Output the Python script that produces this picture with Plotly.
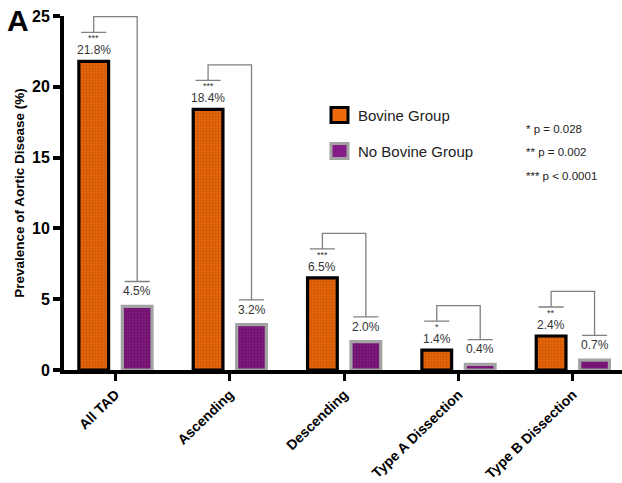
import plotly.graph_objects as go

categories = ["All TAD", "Ascending", "Descending", "Type A Dissection", "Type B Dissection"]
bovine = [21.8, 18.4, 6.5, 1.4, 2.4]
no_bovine = [4.5, 3.2, 2.0, 0.4, 0.7]
stars = ["***", "***", "***", "*", "**"]
pvalue_lines = ["* p = 0.028", "** p = 0.002", "*** p < 0.0001"]
series_names = ["Bovine Group", "No Bovine Group"]
y_ticks = [0, 5, 10, 15, 20, 25]

ORANGE = "#EE6A0C"
ORANGE_DOT = "#A84400"
PURPLE = "#861C86"
PURPLE_DOT = "#4A0848"
GREY_BORDER = "#A3A3A3"
BRACKET = "#808080"
TXT = "#333333"
FONT = "Liberation Sans, Arial, sans-serif"

# plot area in pixels (for paper-coordinate helpers)
L, R, T, B = 64, 622, 16, 370
def px(x):
    return (x - L) / (R - L)
def py(y):
    return (B - y) / (B - T)

x_idx = list(range(len(categories)))
OFF = 0.19
W = 0.26

fig = go.Figure()
fig.add_trace(go.Bar(
    x=x_idx, y=bovine, name=series_names[0], width=W, offset=-OFF - W / 2,
    marker=dict(color=ORANGE, line=dict(color="black", width=3.2),
                pattern=dict(shape=".", fgcolor=ORANGE_DOT, bgcolor=ORANGE, size=3, solidity=0.5)),
    showlegend=False,
))
fig.add_trace(go.Bar(
    x=x_idx, y=no_bovine, name=series_names[1], width=W, offset=OFF - W / 2,
    marker=dict(color=PURPLE, line=dict(color=GREY_BORDER, width=3.2),
                pattern=dict(shape=".", fgcolor=PURPLE_DOT, bgcolor=PURPLE, size=3, solidity=0.5)),
    showlegend=False,
))

shapes = []
annotations = []
CAP = 0.11
for i, (a, b, s) in enumerate(zip(bovine, no_bovine, stars)):
    xl = i - OFF
    xr = i + OFF
    yl = a + 2.05
    yt = yl + 1.1
    yr = b + 1.75
    path = (f"M {xl - CAP},{yl} L {xl + CAP},{yl} M {xl},{yl} L {xl},{yt} L {xr},{yt} L {xr},{yr} "
            f"M {xr - CAP},{yr} L {xr + CAP},{yr}")
    shapes.append(dict(type="path", path=path, xref="x", yref="y",
                       line=dict(color=BRACKET, width=1.3)))
    annotations.append(dict(x=xl, y=a, xref="x", yref="y", text=f"{a:.1f}%", showarrow=False,
                            yanchor="bottom", yshift=2, font=dict(family=FONT, size=12, color=TXT)))
    annotations.append(dict(x=xl, y=a, xref="x", yref="y", text=s, showarrow=False,
                            yanchor="bottom", yshift=16, font=dict(family=FONT, size=9, color=TXT)))
    annotations.append(dict(x=xr, y=b, xref="x", yref="y", text=f"{b:.1f}%", showarrow=False,
                            yanchor="bottom", yshift=6, font=dict(family=FONT, size=12, color=TXT)))

# custom legend
leg = [(ORANGE, "black", 115), (PURPLE, GREY_BORDER, 151)]
for (fill, border, yc), name in zip(leg, series_names):
    shapes.append(dict(type="rect", xref="paper", yref="paper",
                       x0=px(331), x1=px(348), y0=py(yc - 7.5), y1=py(yc + 7.5),
                       fillcolor=fill, line=dict(color=border, width=3)))
    annotations.append(dict(x=px(356), y=py(yc), xref="paper", yref="paper", text=name,
                            showarrow=False, xanchor="left", yanchor="middle",
                            font=dict(family=FONT, size=15, color="#222222")))

for k, line in enumerate(pvalue_lines):
    annotations.append(dict(x=px(524), y=py(129 + 23.3 * k), xref="paper", yref="paper", text=line,
                            showarrow=False, xanchor="left", yanchor="middle",
                            font=dict(family=FONT, size=11.5, color="#222222")))

annotations.append(dict(x=px(5), y=py(20), xref="paper", yref="paper", text="<b>A</b>",
                        showarrow=False, xanchor="left", yanchor="middle",
                        font=dict(family=FONT, size=30, color="black")))

fig.update_layout(
    width=622, height=483,
    margin=dict(l=L, r=622 - R, t=T, b=483 - B),
    paper_bgcolor="white", plot_bgcolor="white",
    shapes=shapes, annotations=annotations,
    xaxis=dict(
        range=[-0.45, 4.43], tickvals=x_idx, ticktext=[f"<b>{c}</b>" for c in categories],
        tickangle=-44, ticks="outside", ticklen=7, tickwidth=3, tickcolor="black",
        showline=True, linecolor="black", linewidth=4, showgrid=False, zeroline=False,
        tickfont=dict(family=FONT, size=14, color="black"), automargin=False,
    ),
    yaxis=dict(
        range=[0, 25], tickvals=y_ticks, ticks="outside", ticklen=7, tickwidth=4, tickcolor="black",
        showline=True, linecolor="black", linewidth=4, showgrid=False, zeroline=False,
        tickfont=dict(family=FONT, size=16, color="black", weight="bold"), automargin=False,
        title=dict(text="<b>Prevalence of Aortic Disease (%)</b>", standoff=5,
                   font=dict(family=FONT, size=13.5, color="black")),
    ),
)

fig.write_html("out.html")
